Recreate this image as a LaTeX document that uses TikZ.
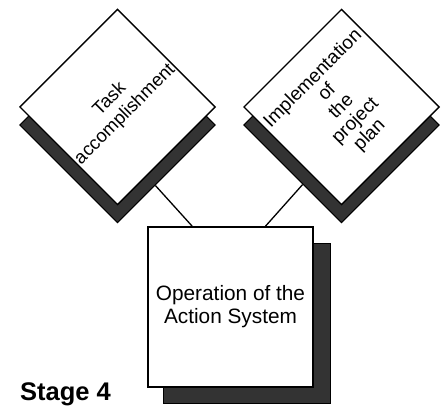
\documentclass[tikz,border=0pt]{standalone}
\usepackage{fontspec}
\setmainfont{Liberation Sans}
\usetikzlibrary{calc}
\begin{document}
\begin{tikzpicture}[x=1pt,y=-1pt,
  diam/.style={draw=black, line width=1.3pt, fill=white, rotate=45, minimum size=138pt, inner sep=0pt, align=center},
  dshadow/.style={draw=black, line width=1pt, fill=black!80, rotate=45, minimum size=138pt, inner sep=0pt},
  boxnode/.style={draw=black, line width=1.6pt, fill=white, minimum width=165pt, minimum height=160pt, inner sep=0pt, align=center},
  bshadow/.style={draw=black, line width=1pt, fill=black!80, minimum width=167pt, minimum height=160pt, inner sep=0pt},
  link/.style={draw=black, line width=1.3pt}]
\useasboundingbox (0,0) rectangle (442,409);
\fill[white] (0,0) rectangle (442,409);
% shadows of diamonds
\node[dshadow] (sL) at (117.5,125) {};
\node[dshadow] (sR) at (341.5,125) {};
% diamonds
\node[diam, font=\fontsize{18.5}{21.5}\selectfont] (dL) at (117.5,107) {Task\\accomplishment};
\node[diam, font=\fontsize{19}{20}\selectfont] (dR) at (341.5,107) {Implementation\\of\\the\\project\\plan};
% box
\node[bshadow] (sB) at (247,323) {};
\node[boxnode, font=\fontsize{20.8}{23}\selectfont] (B) at (230.5,307) {Operation of the\\Action System};
% connectors
\coordinate (cL) at ($(sL.south east)!0.615!(sL.south west)$);
\coordinate (cR) at ($(sR.north west)!0.605!(sR.south west)$);
\coordinate (eL) at ($(B.north west)!0.27!(B.north east)$);
\coordinate (eR) at ($(B.north west)!0.71!(B.north east)$);
\draw[link] (cL) -- (eL);
\draw[link] (cR) -- (eR);
% stage label
\node[anchor=base west, inner sep=0pt, font=\fontsize{25.5}{25.5}\selectfont\bfseries] (st) at (20,400) {Stage 4};
\end{tikzpicture}
\end{document}
